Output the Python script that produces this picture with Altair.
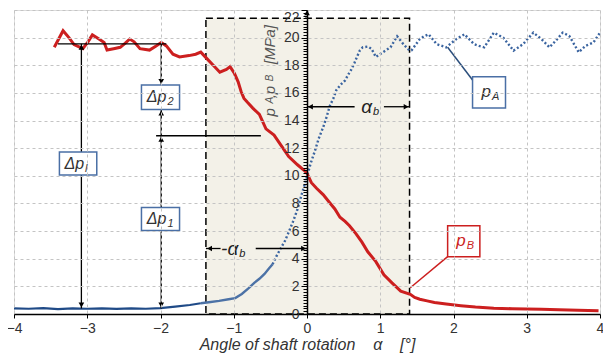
import altair as alt
import pandas as pd

# ---------------- data ----------------
red_x = [-3.45, -3.33, -3.25, -3.18, -3.06, -2.99, -2.93, -2.84, -2.77, -2.73, -2.64, -2.55,
         -2.48, -2.42, -2.36, -2.28, -2.15, -2.06, -1.99, -1.92, -1.83, -1.74, -1.61, -1.52,
         -1.45, -1.37, -1.28, -1.19, -1.10, -1.05, -0.99, -0.94, -0.90, -0.86, -0.81, -0.74,
         -0.65, -0.56, -0.45, -0.34, -0.25, -0.13, -0.04, 0.0, 0.06, 0.13, 0.22, 0.31, 0.38,
         0.45, 0.52, 0.58, 0.67, 0.75, 0.83, 0.94, 1.05, 1.16, 1.28, 1.41, 1.47, 1.54, 1.64,
         1.74, 1.90, 2.10, 2.30, 2.55, 2.80, 3.00, 3.20, 3.44, 3.70, 3.98]
red_y = [19.3, 20.5, 20.0, 19.5, 19.2, 19.7, 20.2, 19.9, 19.65, 19.1, 19.2, 19.3,
         19.6, 19.9, 19.7, 19.2, 19.1, 19.4, 19.65, 19.4, 18.8, 18.6, 18.7, 18.8,
         18.95, 18.5, 18.0, 17.5, 17.7, 17.9, 17.4, 16.8, 16.1, 15.6, 15.3, 14.9,
         14.45, 13.4, 12.95, 12.1, 11.4, 10.8, 10.4, 10.18, 9.5, 9.1, 8.64, 8.05, 7.6,
         7.0, 6.7, 6.39, 5.8, 5.2, 4.5, 3.79, 2.84, 2.25, 1.66, 1.42, 1.2, 1.07, 0.95,
         0.83, 0.72, 0.6, 0.5, 0.42, 0.38, 0.36, 0.34, 0.31, 0.28, 0.24]

blue_x = [-4.0, -3.8, -3.6, -3.4, -3.2, -3.0, -2.8, -2.6, -2.4, -2.2, -2.0, -1.8, -1.6,
          -1.45, -1.34, -1.2, -1.07, -0.98, -0.89, -0.80, -0.72, -0.65, -0.58, -0.52, -0.47,
          -0.42, -0.36, -0.30, -0.25, -0.19, -0.13, -0.07, 0.0, 0.05, 0.11, 0.16, 0.22, 0.27,
          0.31, 0.36, 0.40, 0.46, 0.52, 0.56, 0.60, 0.65, 0.69, 0.72, 0.76, 0.83, 0.88, 0.94,
          1.01, 1.07, 1.14, 1.23, 1.32, 1.40, 1.43, 1.54, 1.60, 1.66, 1.77, 1.90, 2.04, 2.15,
          2.28, 2.35, 2.42, 2.55, 2.68, 2.82, 2.95, 3.09, 3.20, 3.31, 3.40, 3.49, 3.58, 3.71,
          3.80, 3.91, 4.0]
blue_y = [0.40, 0.38, 0.42, 0.36, 0.40, 0.38, 0.41, 0.37, 0.40, 0.38, 0.42, 0.53, 0.65,
          0.78, 0.85, 0.95, 1.07, 1.15, 1.45, 1.85, 2.25, 2.55, 2.9, 3.3, 3.6,
          4.15, 4.74, 5.3, 5.92, 6.7, 7.58, 8.7, 9.94, 10.9, 11.84, 12.7, 13.5, 14.3,
          15.04, 15.6, 16.2, 16.6, 16.9, 17.3, 17.64, 18.2, 18.7, 19.06, 19.3, 19.35, 19.2, 18.6,
          18.85, 19.06, 19.3, 20.1, 19.5, 19.06, 19.1, 19.9, 20.1, 20.24, 19.53, 19.3, 19.9, 20.24,
          19.53, 19.4, 19.3, 20.36, 20.0, 19.06, 19.53, 20.36, 19.9, 19.3, 19.8, 20.36, 20.13, 18.94,
          19.4, 19.65, 20.36]

x_ticks = [-4, -3, -2, -1, 0, 1, 2, 3, 4]

red = pd.DataFrame({"x": red_x, "y": red_y})
blue = pd.DataFrame({"x": blue_x, "y": blue_y})

# ---------------- annotations (data coordinates) ----------------
band = pd.DataFrame({"x": [-1.38], "x2": [1.40], "y": [0.0], "y2": [21.4]})

black_lines = pd.DataFrame([
    {"x": -3.40, "x2": -1.92, "y": 19.55, "y2": 19.55},
    {"x": -3.08, "x2": -3.08, "y": 11.72, "y2": 19.55},
    {"x": -3.08, "x2": -3.08, "y": 0.40, "y2": 10.06},
    {"x": -1.99, "x2": -1.99, "y": 16.58, "y2": 19.55},
    {"x": -1.99, "x2": -1.99, "y": 12.90, "y2": 14.80},
    {"x": -1.99, "x2": -1.99, "y": 7.70, "y2": 12.90},
    {"x": -1.99, "x2": -1.99, "y": 0.40, "y2": 6.04},
    {"x": -2.06, "x2": -0.63, "y": 12.90, "y2": 12.90},
    {"x": -1.38, "x2": -1.18, "y": 4.74, "y2": 4.74},
    {"x": -0.70, "x2": 0.00, "y": 4.74, "y2": 4.74},
    {"x": 0.00, "x2": 0.65, "y": 15.0, "y2": 15.0},
    {"x": 1.05, "x2": 1.40, "y": 15.0, "y2": 15.0},
])
arrows = pd.DataFrame([
    {"x": -3.08, "y": 19.30, "shape": "triangle-up"},
    {"x": -3.08, "y": 0.65, "shape": "triangle-down"},
    {"x": -1.99, "y": 16.83, "shape": "triangle-down"},
    {"x": -1.99, "y": 14.55, "shape": "triangle-up"},
    {"x": -1.99, "y": 12.65, "shape": "triangle-up"},
    {"x": -1.99, "y": 0.65, "shape": "triangle-down"},
    {"x": -1.33, "y": 4.74, "shape": "triangle-left"},
    {"x": -0.047, "y": 4.74, "shape": "triangle-right"},
    {"x": 0.047, "y": 15.0, "shape": "triangle-left"},
    {"x": 1.353, "y": 15.0, "shape": "triangle-right"},
    {"x": 0.0, "y": 21.8, "shape": "triangle-up"},
])
leaders = pd.DataFrame([
    {"x": 1.92, "x2": 2.26, "y": 19.3, "y2": 16.93, "c": "#2c4f7c"},
    {"x": 1.41, "x2": 1.92, "y": 1.9, "y2": 4.15, "c": "#cc1f1f"},
])
boxes = pd.DataFrame([
    {"x": -3.38, "x2": -2.87, "y": 10.06, "y2": 11.72, "c": "#4a6fa5"},
    {"x": -2.26, "x2": -1.74, "y": 14.80, "y2": 16.58, "c": "#4a6fa5"},
    {"x": -2.26, "x2": -1.74, "y": 6.04, "y2": 7.70, "c": "#4a6fa5"},
    {"x": 2.26, "x2": 2.71, "y": 14.91, "y2": 17.17, "c": "#4a6fa5"},
    {"x": 1.92, "x2": 2.36, "y": 4.15, "y2": 6.39, "c": "#cc1f1f"},
])
delta_main = pd.DataFrame([
    {"x": -3.125, "y": 10.89, "t": "Δp"},
    {"x": -2.0, "y": 15.69, "t": "Δp"},
    {"x": -2.0, "y": 6.87, "t": "Δp"},
])
delta_sub = pd.DataFrame([
    {"x": -3.125, "y": 10.89, "t": "l"},
    {"x": -2.0, "y": 15.69, "t": "2"},
    {"x": -2.0, "y": 6.87, "t": "1"},
])
p_main = pd.DataFrame([
    {"x": 2.485, "y": 16.04, "t": "p", "c": "#333333"},
    {"x": 2.14, "y": 5.27, "t": "p", "c": "#cc1f1f"},
])
p_sub = pd.DataFrame([
    {"x": 2.485, "y": 16.04, "t": "A", "c": "#333333"},
    {"x": 2.14, "y": 5.27, "t": "B", "c": "#cc1f1f"},
])
alpha_main = pd.DataFrame([
    {"x": 0.86, "y": 15.0, "t": "α"},
    {"x": -0.966, "y": 4.74, "t": "-α"},
])
ytitle_big = pd.DataFrame([
    {"x": -0.5, "y": 14.6, "t": "p"},
    {"x": -0.5, "y": 16.2, "t": "p"},
    {"x": -0.5, "y": 19.5, "t": "[MPa]"},
])
ytitle_comma = pd.DataFrame([{"x": -0.5, "y": 15.55, "t": ","}])
ytitle_sub = pd.DataFrame([
    {"x": -0.5, "y": 15.12, "t": "A"},
    {"x": -0.5, "y": 16.72, "t": "B"},
])

# ---------------- scales & axes ----------------
FONT = "Liberation Sans"
XS = alt.Scale(domain=[-4, 4], nice=False, zero=False)
YS = alt.Scale(domain=[0, 22], nice=False, zero=False)
W, H = 586, 304
NB = "\u00a0"

x_axis = alt.Axis(values=x_ticks, title=f"Angle of shaft rotation{NB*4}α{NB*4}[°]",
                  titleFont=FONT, titleFontStyle="italic", titleFontSize=16,
                  titleFontWeight="normal", titleColor="#333333", titlePadding=1,
                  labelFont=FONT, labelFontSize=14, labelColor="#333333", labelPadding=3,
                  labelFlush=False, labelOverlap=False, tickSize=4, tickColor="black",
                  domainColor="black", domainWidth=1.5, grid=True, gridDash=[3, 3],
                  gridColor="#c4c4c4", format="d", zindex=1)
is_major = "abs(datum.value - 2*round(datum.value/2)) < 0.01"
y_axis = alt.Axis(tickCount=100, orient="left", offset=-(W / 2), title=None,
                  labelExpr=f"{is_major} ? format(datum.value, 'd') : ''",
                  labelFont=FONT, labelFontSize=14, labelColor="#333333", labelPadding=2,
                  labelOverlap=False,
                  labelBaseline={"condition": {"test": "datum.value > 21.5", "value": "top"},
                                 "value": "middle"},
                  tickSize={"condition": {"test": is_major, "value": 6}, "value": 4},
                  gridOpacity={"condition": {"test": is_major, "value": 1}, "value": 0},
                  tickColor="black", tickWidth=1, domainColor="black", domainWidth=1.5,
                  grid=True, gridDash=[3, 3], gridColor="#c4c4c4", zindex=1)


def X(f="x"):
    return alt.X(f, type="quantitative", scale=XS, axis=x_axis)


def Y(f="y"):
    return alt.Y(f, type="quantitative", scale=YS, axis=y_axis)


# ---------------- layers ----------------
band_l = alt.Chart(band).mark_rect(fill="#e9e5d6", fillOpacity=0.55, stroke="black",
                                   strokeDash=[7, 4], strokeWidth=1.5).encode(
    x=X(), x2="x2", y=Y(), y2="y2")

blue_low = alt.Chart(blue).transform_filter("datum.x <= -1.4").mark_line(
    color="#1f4a87", strokeWidth=2.2).encode(x=X(), y=Y())
blue_mid = alt.Chart(blue).transform_filter("datum.x >= -1.45 && datum.x <= -0.47").mark_line(
    color="#4c72a6", strokeWidth=2.4).encode(x=X(), y=Y())
blue_dot = alt.Chart(blue).transform_filter("datum.x >= -0.47").mark_line(
    color="#3a64a0", strokeWidth=2.4, strokeDash=[2, 2.2]).encode(x=X(), y=Y())

red_l = alt.Chart(red).mark_line(color="#cc1f1f", strokeWidth=3.0).encode(x=X(), y=Y())

rules_l = alt.Chart(black_lines).mark_rule(color="black", strokeWidth=1.3).encode(
    x=X(), x2="x2", y=Y(), y2="y2")
leader_l = alt.Chart(leaders).mark_rule(strokeWidth=1.5).encode(
    x=X(), x2="x2", y=Y(), y2="y2", color=alt.Color("c:N", scale=None))
arrow_l = alt.Chart(arrows).mark_point(filled=True, color="black", size=32, opacity=1).encode(
    x=X(), y=Y(), shape=alt.Shape("shape:N", scale=None))
box_l = alt.Chart(boxes).mark_rect(fill="white", strokeWidth=1.5).encode(
    x=X(), x2="x2", y=Y(), y2="y2", stroke=alt.Stroke("c:N", scale=None))

d_main = alt.Chart(delta_main).mark_text(font=FONT, fontSize=16, fontStyle="italic",
                                         align="right", baseline="middle", dx=6,
                                         color="#333333").encode(x=X(), y=Y(), text="t:N")
d_sub = alt.Chart(delta_sub).mark_text(font=FONT, fontSize=11, fontStyle="italic",
                                       align="left", baseline="middle", dx=7, dy=5,
                                       color="#333333").encode(x=X(), y=Y(), text="t:N")
pm = alt.Chart(p_main).mark_text(font=FONT, fontSize=17, fontStyle="italic", align="right",
                                 baseline="middle", dx=2).encode(
    x=X(), y=Y(), text="t:N", color=alt.Color("c:N", scale=None))
ps = alt.Chart(p_sub).mark_text(font=FONT, fontSize=11, fontStyle="italic", align="left",
                                baseline="middle", dx=3, dy=5).encode(
    x=X(), y=Y(), text="t:N", color=alt.Color("c:N", scale=None))
am = alt.Chart(alpha_main).mark_text(font=FONT, fontSize=19, fontStyle="italic", align="right",
                                     baseline="middle", dx=2, color="#222222").encode(
    x=X(), y=Y(), text="t:N")
asub = alt.Chart(alpha_main).mark_text(font=FONT, fontSize=11, fontStyle="italic", align="left",
                                       baseline="middle", dx=3, dy=5, color="#222222",
                                       text="b").encode(x=X(), y=Y())
yt_big = alt.Chart(ytitle_big).mark_text(font=FONT, fontSize=15, fontStyle="italic",
                                         align="center", baseline="middle", angle=270,
                                         color="#555555").encode(x=X(), y=Y(), text="t:N")
yt_comma = alt.Chart(ytitle_comma).mark_text(font=FONT, fontSize=15, fontStyle="italic",
                                             align="center", baseline="middle", angle=270, dx=3,
                                             color="#555555").encode(x=X(), y=Y(), text="t:N")
yt_sub = alt.Chart(ytitle_sub).mark_text(font=FONT, fontSize=10, fontStyle="italic",
                                         align="center", baseline="middle", angle=270, dx=5,
                                         color="#555555").encode(x=X(), y=Y(), text="t:N")

chart = alt.layer(
    band_l, blue_low, blue_mid, blue_dot, red_l, rules_l, leader_l, arrow_l, box_l,
    d_main, d_sub, pm, ps, am, asub, yt_big, yt_comma, yt_sub
).properties(
    width=W, height=H,
    autosize=alt.AutoSizeParams(type="none"),
    padding={"left": 6, "top": 2, "right": 3, "bottom": 41},
    background="white",
).configure_view(stroke="#b5b5b5", strokeWidth=1).configure(font=FONT)

chart.save("out.html", embed_options={"renderer": "svg", "actions": False})
